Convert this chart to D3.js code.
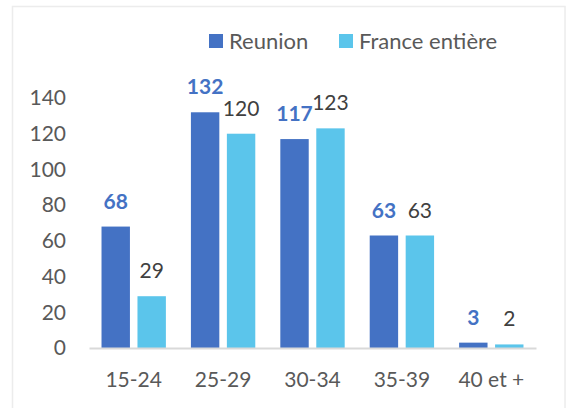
<!DOCTYPE html>
<html>
<head>
<meta charset="utf-8">
<script src="https://cdn.jsdelivr.net/npm/d3@7"></script>
<style>
  html, body { margin: 0; padding: 0; background: #fff; }
  svg { display: block; font-family: Lato, "Liberation Sans", sans-serif; }
</style>
</head>
<body>
<div id="chart"></div>
<script>
// age groups and values
const categories = ['15-24', '25-29', '30-34', '35-39', '40 et +'];
const reunion = [68, 132, 117, 63, 3];
const france = [29, 120, 123, 63, 2];
const seriesNames = ['Reunion', 'France entière'];
const yTicks = [0, 20, 40, 60, 80, 100, 120, 140];

const width = 569;
const height = 408;
const colors = ['#4472C4', '#5BC5EB'];

const svg = d3.select('#chart')
  .append('svg')
  .attr('width', width)
  .attr('height', height);

// chart frame
svg.append('rect')
  .attr('x', 12.5)
  .attr('y', 6.5)
  .attr('width', 552.5)
  .attr('height', 430)
  .attr('fill', '#fff')
  .attr('stroke', '#ececec')
  .attr('stroke-width', 1.5);

// scales
const x0 = d3.scaleBand()
  .domain(categories)
  .range([89, 536])
  .paddingInner(0.28)
  .paddingOuter(0.14);

const x1 = d3.scaleBand()
  .domain(seriesNames)
  .range([0, x0.bandwidth()])
  .paddingInner(0.21);

const y = d3.scaleLinear()
  .domain([0, 140])
  .range([348, 98]);

const rows = categories.map((c, i) => ({
  cat: c,
  vals: [
    { name: seriesNames[0], v: reunion[i], s: 0 },
    { name: seriesNames[1], v: france[i], s: 1 }
  ]
}));

// y tick labels (no axis line)
const yAxis = d3.axisLeft(y).tickValues(yTicks).tickSize(0).tickPadding(0);
const gy = svg.append('g')
  .attr('transform', 'translate(66,0)')
  .call(yAxis);
gy.select('.domain').remove();
gy.selectAll('text')
  .attr('font-size', 21)
  .attr('font-family', 'Lato, sans-serif')
  .attr('fill', '#595959');

// bars
const groups = svg.selectAll('g.group')
  .data(rows)
  .enter()
  .append('g')
  .attr('class', 'group')
  .attr('transform', d => `translate(${x0(d.cat)},0)`);

groups.selectAll('rect')
  .data(d => d.vals)
  .enter()
  .append('rect')
  .attr('x', d => x1(d.name))
  .attr('y', d => y(d.v))
  .attr('width', x1.bandwidth())
  .attr('height', d => y(0) - y(d.v))
  .attr('fill', d => colors[d.s]);

// data labels
groups.selectAll('text.lbl')
  .data(d => d.vals)
  .enter()
  .append('text')
  .attr('class', 'lbl')
  .attr('x', d => x1(d.name) + x1.bandwidth() / 2)
  .attr('y', d => y(d.v) - 18)
  .attr('text-anchor', 'middle')
  .attr('font-size', 21)
  .attr('font-weight', d => d.s === 0 ? 'bold' : 'normal')
  .attr('fill', d => d.s === 0 ? '#4472C4' : '#404040')
  .text(d => d.v);

// x axis
const xAxis = d3.axisBottom(x0).tickSize(0).tickPadding(0);
const gx = svg.append('g')
  .attr('transform', `translate(0,${y(0)})`)
  .call(xAxis);
gx.select('.domain')
  .attr('stroke', '#d9d9d9')
  .attr('stroke-width', 2);
gx.selectAll('text')
  .attr('dy', null)
  .attr('y', 39)
  .attr('font-size', 21)
  .attr('font-family', 'Lato, sans-serif')
  .attr('fill', '#595959');

// legend
const legendX = [209, 339];
const legend = svg.selectAll('g.legend')
  .data(seriesNames)
  .enter()
  .append('g')
  .attr('class', 'legend')
  .attr('transform', (d, i) => `translate(${legendX[i]},34)`);

legend.append('rect')
  .attr('width', 14)
  .attr('height', 14)
  .attr('fill', (d, i) => colors[i]);

legend.append('text')
  .attr('x', 20)
  .attr('y', 14.5)
  .attr('font-size', 22)
  .attr('fill', '#595959')
  .text(d => d);
</script>
</body>
</html>
